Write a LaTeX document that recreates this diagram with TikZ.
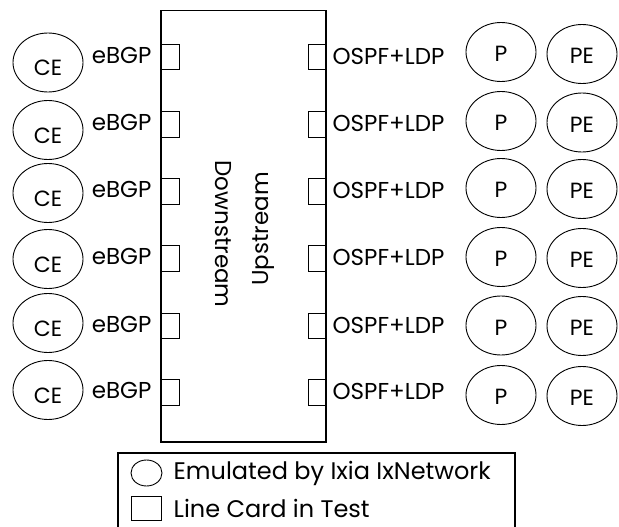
\documentclass[tikz,border=0pt]{standalone}
\usepackage{fontspec}
\setmainfont{Poppins}
\usetikzlibrary{positioning}
\usetikzlibrary{shapes.geometric}
\tikzset{emu/.style = {draw, ellipse, line width=0.9, inner sep=0,
                       minimum width=70, minimum height=59, text depth=0pt,
                       font=\fontsize{22}{22}\selectfont}}
\tikzset{ce/.style = {emu, text height=26.5pt}}
\tikzset{core/.style = {emu, text height=19pt}}
\tikzset{card/.style = {draw, rectangle, line width=0.9, inner sep=0,
                        minimum width=18, minimum height=25.5}}
\tikzset{proto/.style = {inner sep=0, font=\fontsize{23}{23}\selectfont}}
\tikzset{legtext/.style = {inner sep=0, font=\fontsize{24}{24}\selectfont}}

\begin{document}
\begin{tikzpicture}[x=1pt, y=-1pt]
    \useasboundingbox (0, 0) rectangle (619, 527);

    % device under test
    \node (dut) [draw, line width=1.2, minimum width=165, minimum height=431.5] at (243.5, 226.25) {};
    \node (down) [rotate=-90, font=\fontsize{23}{23}\selectfont] at (223, 234) {Downstream};
    \node (up) [rotate=90, font=\fontsize{23}{23}\selectfont] at (263, 229) {Upstream};

    % line cards
    \node (lc1) [card] at (170, 57) {};
    \node (lc2) [card] at (170, 124.5) {};
    \node (lc3) [card] at (170, 191.5) {};
    \node (lc4) [card] at (170, 258.5) {};
    \node (lc5) [card] at (170, 326) {};
    \node (lc6) [card] at (170, 392.5) {};
    \node (rc1) [card] at (317, 57) {};
    \node (rc2) [card] at (317, 124.5) {};
    \node (rc3) [card] at (317, 191.5) {};
    \node (rc4) [card] at (317, 258.5) {};
    \node (rc5) [card] at (317, 326) {};
    \node (rc6) [card] at (317, 392.5) {};

    \node (bgp1) [proto, left=9pt of lc1, yshift=2pt] {eBGP};
    \node (bgp2) [proto, left=9pt of lc2, yshift=2pt] {eBGP};
    \node (bgp3) [proto, left=9pt of lc3, yshift=2pt] {eBGP};
    \node (bgp4) [proto, left=9pt of lc4, yshift=2pt] {eBGP};
    \node (bgp5) [proto, left=9pt of lc5, yshift=2pt] {eBGP};
    \node (bgp6) [proto, left=9pt of lc6, yshift=2pt] {eBGP};
    \node (igp1) [proto, right=6pt of rc1, yshift=1pt] {OSPF+LDP};
    \node (igp2) [proto, right=6pt of rc2, yshift=1pt] {OSPF+LDP};
    \node (igp3) [proto, right=6pt of rc3, yshift=1pt] {OSPF+LDP};
    \node (igp4) [proto, right=6pt of rc4, yshift=1pt] {OSPF+LDP};
    \node (igp5) [proto, right=6pt of rc5, yshift=1pt] {OSPF+LDP};
    \node (igp6) [proto, right=6pt of rc6, yshift=1pt] {OSPF+LDP};

    % emulated routers
    \node (ce1) [ce] at (48, 62.5) {CE};
    \node (ce2) [ce] at (48, 130) {CE};
    \node (ce3) [ce] at (48, 193) {CE};
    \node (ce4) [ce] at (48, 259) {CE};
    \node (ce5) [ce] at (48, 323) {CE};
    \node (ce6) [ce] at (48, 390) {CE};
    \node (p1) [core] at (501, 52) {P};
    \node (p2) [core] at (501, 121) {P};
    \node (p3) [core] at (501, 188) {P};
    \node (p4) [core] at (501, 257) {P};
    \node (p5) [core] at (501, 325.5) {P};
    \node (p6) [core] at (501, 395) {P};
    \node (pe1) [core] at (582, 54) {PE};
    \node (pe2) [core] at (582, 122.5) {PE};
    \node (pe3) [core] at (582, 189) {PE};
    \node (pe4) [core] at (582, 258) {PE};
    \node (pe5) [core] at (582, 326) {PE};
    \node (pe6) [core] at (582, 396) {PE};

    % legend
    \node (legend) [draw, line width=2, minimum width=397, minimum height=92.5] at (316.5, 498.75) {};
    \node (lgemu) [draw, ellipse, line width=0.9, inner sep=0, minimum width=31, minimum height=26] at (146.5, 473) {};
    \node (lgcard) [draw, line width=0.9, inner sep=0, minimum width=30, minimum height=24] at (146, 508) {};
    \node (lgemutext) [legtext, right=11pt of lgemu] {Emulated by Ixia IxNetwork};
    \node (lgcardtext) [legtext, right=12pt of lgcard] {Line Card in Test};
\end{tikzpicture}
\end{document}
